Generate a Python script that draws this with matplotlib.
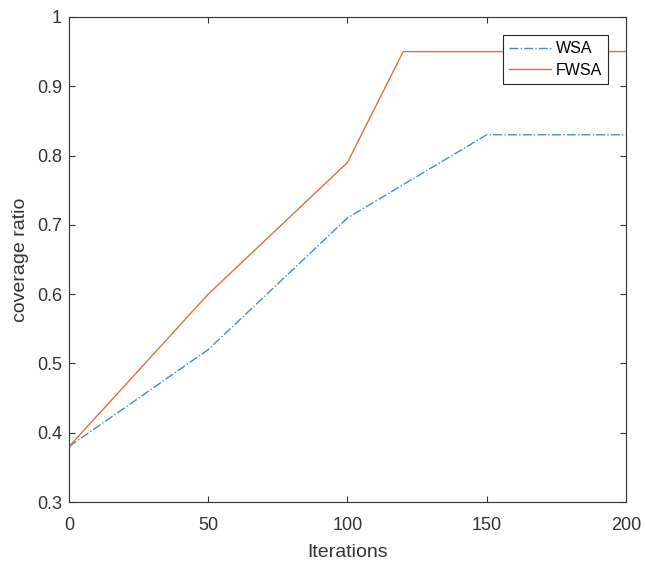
import matplotlib
matplotlib.use('Agg')
from matplotlib import pyplot as plt
import numpy as np

plt.rcParams['font.family'] = ['Liberation Sans', 'DejaVu Sans']

# data
iters = [0, 50, 100, 150, 200]
wsa = [0.38, 0.52, 0.71, 0.83, 0.83]
iters_f = [0, 50, 100, 120, 200]
fwsa = [0.38, 0.60, 0.79, 0.95, 0.95]

xticks = [0, 50, 100, 150, 200]
yticks = [0.3, 0.4, 0.5, 0.6, 0.7, 0.8, 0.9, 1.0]
ytick_labels = ['0.3', '0.4', '0.5', '0.6', '0.7', '0.8', '0.9', '1']

fig = plt.figure(figsize=(6.45, 5.65), dpi=100)
ax = fig.add_axes([0.107, 0.1115, 0.8635, 0.8585])

ax.plot(iters, wsa, linestyle='-.', color='#3d8fd1', linewidth=1.0, label='WSA')
ax.plot(iters_f, fwsa, linestyle='-', color='#e0703f', linewidth=1.0, label='FWSA')

ax.set_xlim(0, 200)
ax.set_ylim(0.3, 1.0)
ax.set_xticks(xticks)
ax.set_yticks(yticks)
ax.set_yticklabels(ytick_labels)
ax.tick_params(direction='in', top=True, right=True, length=4, width=0.8,
               colors='#333333', labelsize=13)
ax.tick_params(axis='x', pad=11)
ax.tick_params(axis='y', pad=5)
for s in ax.spines.values():
    s.set_color('#333333')
    s.set_linewidth(0.8)

ax.set_xlabel('Iterations', fontsize=14, color='#333333', labelpad=7)
ax.set_ylabel('coverage ratio', fontsize=14, color='#333333', labelpad=6)

leg = ax.legend(loc='upper right', bbox_to_anchor=(0.968, 0.963), borderaxespad=0,
                fontsize=11.5, fancybox=False, framealpha=1, edgecolor='#262626',
                handlelength=2.6, borderpad=0.4, labelspacing=0.42,
                handletextpad=0.3)
leg.get_frame().set_linewidth(0.8)

fig.savefig('out.png', dpi=100)
